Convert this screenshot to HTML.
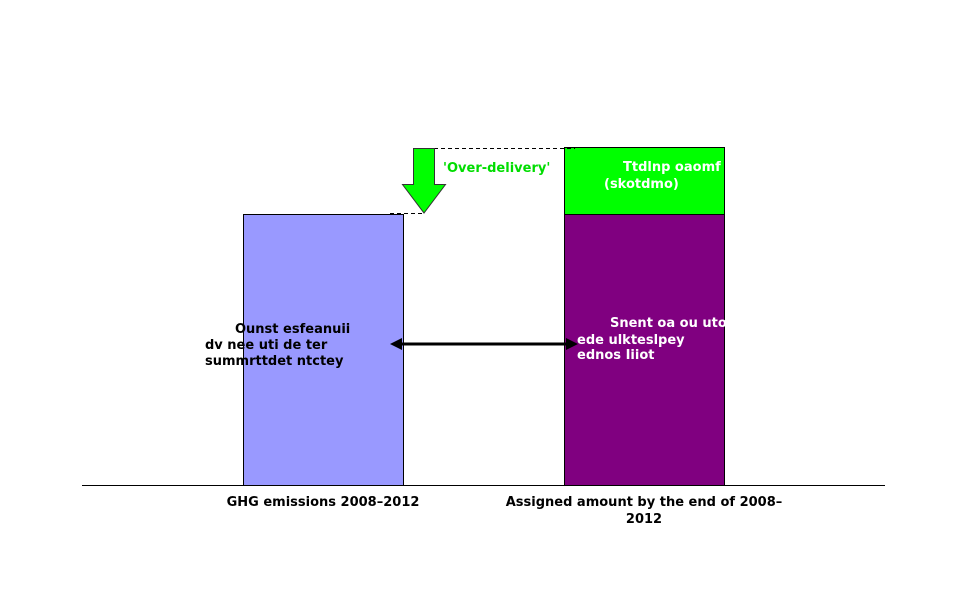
<!DOCTYPE html>
<html><head><meta charset="utf-8"><style>
html,body{margin:0;padding:0;background:#fff;}
svg{display:block;}
text{font-family:"DejaVu Sans","Liberation Sans",sans-serif;font-weight:bold;font-size:13px;}
</style></head><body>
<svg width="967" height="590" xmlns="http://www.w3.org/2000/svg">
<rect x="243.5" y="214.5" width="160" height="271" fill="#9999ff" stroke="#000" stroke-width="1"/>
<rect x="564.5" y="214.5" width="160" height="271" fill="#800080" stroke="#000" stroke-width="1"/>
<rect x="564.5" y="147.5" width="160" height="67" fill="#00ff00" stroke="#000" stroke-width="1"/>
<line x1="82" y1="485.5" x2="885" y2="485.5" stroke="#000" stroke-width="1"/>
<line x1="434" y1="148.5" x2="575" y2="148.5" stroke="#000" stroke-dasharray="4,3"/>
<line x1="390" y1="213.5" x2="424" y2="213.5" stroke="#000" stroke-dasharray="4,3"/>
<polygon points="413.5,148.5 434.5,148.5 434.5,184.5 445.5,184.5 424,213 402.5,184.5 413.5,184.5" fill="#00ff00" stroke="#333" stroke-width="1"/>
<line x1="400" y1="344" x2="568" y2="344" stroke="#000" stroke-width="3"/>
<polygon points="390,344 402,338 402,350" fill="#000"/>
<polygon points="578,344 566,338 566,350" fill="#000"/>
<text x="443" y="172" fill="#00dd00">'Over-delivery'</text>
<text x="623" y="171" fill="#fff">Ttdlnp oaomf</text>
<text x="604" y="188" fill="#fff">(skotdmo)</text>
<text x="235" y="333" fill="#000">Ounst esfeanuii</text>
<text x="205" y="349" fill="#000">dv nee uti de ter</text>
<text x="205" y="365" fill="#000">summrttdet ntctey</text>
<text x="610" y="327" fill="#fff">Snent oa ou uto</text>
<text x="577" y="344" fill="#fff">ede ulkteslpey</text>
<text x="577" y="359" fill="#fff">ednos Iiiot</text>
<text x="323" y="506" text-anchor="middle" fill="#000">GHG emissions 2008–2012</text>
<text x="644" y="506" text-anchor="middle" fill="#000">Assigned amount by the end of 2008–</text>
<text x="644" y="523" text-anchor="middle" fill="#000">2012</text>
</svg>
</body></html>
